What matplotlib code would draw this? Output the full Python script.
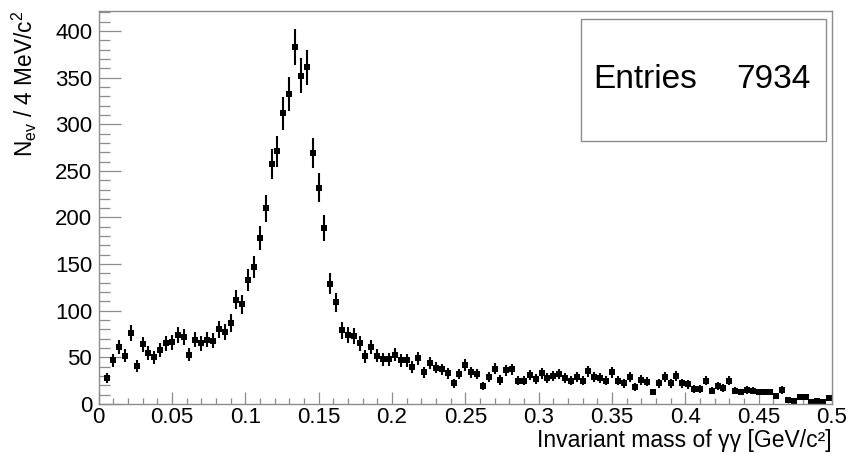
import numpy as np
import matplotlib
matplotlib.use("Agg")
import matplotlib.pyplot as plt
from matplotlib.patches import Rectangle
from matplotlib.ticker import MultipleLocator

plt.rcParams['font.family'] = ['Liberation Sans', 'DejaVu Sans']
plt.rcParams['mathtext.fontset'] = 'custom'
plt.rcParams['mathtext.rm'] = 'Liberation Sans'
plt.rcParams['mathtext.it'] = 'Liberation Sans:italic'

# ---- data (4 MeV bins from 0 to 0.5 GeV) ----
bin_edges = np.linspace(0.0, 0.5, 126)
counts = [0, 28, 47, 61, 52, 76, 41, 64, 55, 50,
          58, 65, 66, 74, 72, 53, 69, 65, 69, 68,
          80, 77, 87, 112, 107, 133, 147, 178, 210, 257,
          271, 312, 332, 383, 352, 361, 269, 232, 189, 129,
          109, 79, 74, 73, 65, 51, 61, 52, 48, 48,
          53, 47, 47, 40, 49, 34, 44, 39, 37, 33,
          22, 32, 42, 34, 32, 19, 29, 38, 26, 36,
          37, 25, 25, 31, 27, 33, 28, 30, 32, 28,
          25, 29, 25, 35, 29, 28, 25, 34, 25, 22,
          29, 18, 26, 24, 13, 22, 29, 22, 30, 22,
          21, 16, 16, 25, 14, 19, 17, 25, 14, 13,
          15, 14, 13, 13, 13, 9, 15, 4, 3, 7,
          7, 2, 3, 2, 6]
entries_label = "Entries"
entries_value = "7934"
xlabel = "Invariant mass of γγ [GeV/c²]"
ylabel = r"N$_{\mathrm{ev}}$ / 4 MeV/c$^{2}$"

counts = np.array(counts, dtype=float)
centers = 0.5 * (bin_edges[:-1] + bin_edges[1:])
mask = counts > 0

W, H = 866, 454
fig = plt.figure(figsize=(W / 100, H / 100), dpi=100)
ax = fig.add_axes([98.5 / W, 1 - 404 / H, (832 - 98.5) / W, (404 - 11) / H])

ax.errorbar(centers[mask], counts[mask], yerr=np.sqrt(counts[mask]),
            fmt='s', color='black', markersize=5.0, mew=0,
            elinewidth=1.5, capsize=0)

ax.set_xlim(0, 0.5)
ax.set_ylim(0, 421.4)

ax.xaxis.set_major_locator(MultipleLocator(0.05))
ax.xaxis.set_minor_locator(MultipleLocator(0.01))
ax.yaxis.set_major_locator(MultipleLocator(50))
ax.yaxis.set_minor_locator(MultipleLocator(10))
ax.xaxis.set_major_formatter(plt.FuncFormatter(lambda v, p: ('%g' % round(v, 3))))

frame_col = '#8c8c8c'
for s in ax.spines.values():
    s.set_color(frame_col)
    s.set_linewidth(1.0)

ax.tick_params(axis='both', which='both', direction='in', color=frame_col,
               labelsize=16.0, top=False, right=False, width=0.9)
ax.tick_params(axis='y', which='major', length=15.8, pad=4.5)
ax.tick_params(axis='y', which='minor', length=8)
ax.tick_params(axis='x', which='major', length=8.6, pad=2.0)
ax.tick_params(axis='x', which='minor', length=4.3)

ax.set_xlabel(xlabel, fontsize=16.5, loc='right', va='baseline')
ax.xaxis.set_label_coords(1.0, -43.0 / 393)
ax.set_ylabel(ylabel, fontsize=16.3, loc='top', va='baseline')
ax.yaxis.set_label_coords((33 - 98.5) / 733.5, 1.0)

# stats box
fig.patches.append(Rectangle((581 / W, 1 - 141 / H), (826 - 581) / W, (141 - 19) / H,
                             transform=fig.transFigure, facecolor='white',
                             edgecolor=frame_col, linewidth=1.0, zorder=5))
fig.text(593 / W, 1 - 80 / H, entries_label, fontsize=24, ha='left', va='center', zorder=6)
fig.text(811 / W, 1 - 80 / H, entries_value, fontsize=24, ha='right', va='center', zorder=6)

fig.savefig("out.png", dpi=100)
